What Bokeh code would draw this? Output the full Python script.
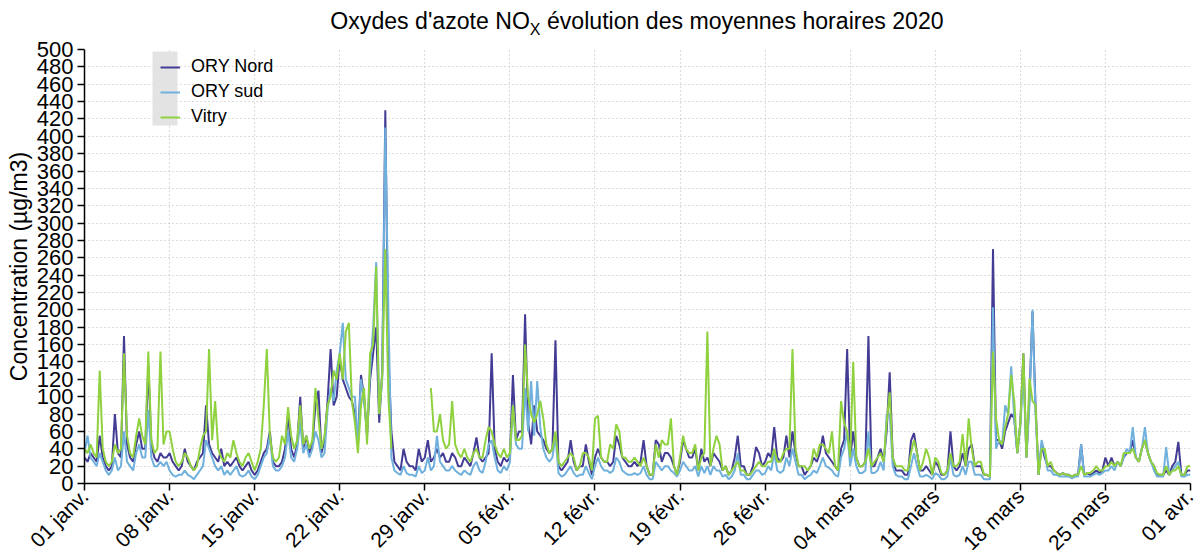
import numpy as np
from bokeh.plotting import figure
from bokeh.models import FixedTicker, Legend, LegendItem, BoxAnnotation, Div
from bokeh.layouts import column
from bokeh.embed import file_html
from bokeh.resources import INLINE

nan = float("nan")

# x axis: days since 01 janv. 2020, weekly ticks
TICK_DAYS = [0, 7, 14, 21, 28, 35, 42, 49, 56, 63, 70, 77, 84, 91]
TICK_LABELS = ["01 janv.", "08 janv.", "15 janv.", "22 janv.", "29 janv.",
               "05 févr.", "12 févr.", "19 févr.", "26 févr.", "04 mars",
               "11 mars", "18 mars", "25 mars", "01 avr."]
Y_TICKS = list(range(0, 501, 20))
STEP_HOURS = 6  # one value every 6 hours

# one row per day: 00h, 06h, 12h, 18h
ORY_NORD = [
    30, 25, 35, 30,   25, 55, 30, 20,   15, 20, 80, 35,   30, 170, 45, 30,
    25, 45, 60, 40,   40, 135, 45, 30,  25, 35, 30, 30,   35, 25, 20, 15,
    20, 40, 25, 20,   15, 25, 30, 35,   90, 45, 35, 30,   25, 40, 20, 25,
    20, 25, 30, 20,   15, 20, 25, 15,   10, 15, 25, 35,   40, 60, 25, 20,
    20, 25, 40, 80,   40, 30, 45, 100,  40, 55, 35, 45,   90, 107, 35, 50,
    95, 155, 90, 100, 145, 120, 110, 100, 95, 80, 50, 125, 100, 55, 120, 150,
    180, 70, 130, 430, 150, 60, 25, 20, 15, 40, 25, 20,   20, 15, 40, 25,
    30, 50, 25, 30,   40, 30, 35, 25,   25, 35, 30, 20,   20, 30, 25, 20,
    35, 53, 30, 25,   30, 35, 150, 40,  25, 20, 30, 25,   30, 125, 50, 60,
    60, 195, 70, 45,  90, 60, 55, 50,   40, 35, 40, 165,  20, 15, 20, 25,
    50, 25, 15, 20,   20, 45, 25, 10,   30, 40, 30, 25,   25, 20, 25, 55,
    45, 30, 25, 20,   20, 25, 20, 25,   50, 20, 10, 10,   50, 45, 25, 35,
    35, 30, 20, 10,   25, 50, 40, 30,   30, 40, 15, 40,   25, 30, 20, 35,
    30, 25, 15, 20,   10, 15, 30, 55,   20, 20, 10, 10,   20, 42, 35, 20,
    25, 35, 30, 65,   30, 25, 30, 55,   30, 60, 35, 20,   20, 10, 15, 20,
    30, 25, 35, 55,   35, 30, 25, 20,   15, 40, 50, 155,  30, 60, 30, 20,
    20, 25, 170, 20,  20, 30, 40, 25,   60, 128, 30, 15,  15, 15, 10, 10,
    49, 58, 35, 15,   15, 20, 15, 10,   25, 20, 10, 10,   15, 60, 20, 15,
    20, 35, 20, 40,   45, 20, 20, 20,   10, 10, 8, 270,   50, 50, 40, 60,
    70, 80, 75, 35,   70, 150, 30, 100, 198, 90, 10, 45,  30, 20, 20, 15,
    12, 10, 12, 10,   10, 8, 10, 10,    45, 10, 12, 10,   12, 15, 12, 15,
    30, 20, 30, 20,   25, 20, 30, 35,   35, 50, 30, 25,   40, 50, 35, 25,
    20, 10, 10, 10,   15, 10, 20, 25,   48, 10, 10, 15,
    15,
]

ORY_SUD = [
    35, 55, 30, 25,   20, 35, 25, 15,   10, 15, 30, 15,   20, 60, 25, 20,
    15, 35, 45, 30,   30, 85, 30, 20,   20, 25, 20, 25,   15, 10, 8, 10,
    10, 15, 10, 8,    5, 10, 15, 20,    50, 40, 30, 20,   15, 20, 10, 15,
    10, 15, 20, 10,   8, 10, 15, 8,     5, 10, 20, 30,    35, 55, 20, 15,
    15, 20, 30, 60,   30, 25, 40, 70,   35, 45, 30, 40,   60, 50, 30, 35,
    85, 110, 95, 130, 150, 185, 120, 110, 100, 100, 45, 120, 95, 60, 130, 180,
    255, 80, 120, 410, 200, 30, 15, 12, 10, 20, 12, 10,   10, 8, 20, 12,
    15, 30, 15, 20,   55, 25, 20, 15,   15, 20, 15, 12,   10, 15, 12, 10,
    20, 25, 15, 12,   25, 45, 50, 30,   15, 12, 20, 15,   25, 90, 45, 40,
    40, 110, 60, 118, 55, 118, 65, 40,  30, 25, 30, 55,   12, 8, 10, 15,
    20, 12, 8, 10,    10, 20, 12, 5,    20, 30, 20, 15,   15, 12, 15, 30,
    25, 15, 12, 10,   10, 12, 10, 12,   20, 10, 5, 5,     25, 20, 15, 20,
    20, 15, 12, 8,    15, 25, 20, 15,   15, 20, 8, 20,    12, 20, 10, 20,
    15, 15, 8, 10,    5, 8, 15, 35,     10, 10, 5, 5,     10, 15, 15, 10,
    12, 20, 15, 35,   15, 12, 15, 30,   20, 40, 25, 10,   10, 5, 8, 10,
    15, 12, 20, 30,   20, 18, 15, 10,   8, 30, 40, 60,    20, 40, 20, 12,
    12, 15, 60, 12,   12, 15, 25, 15,   79, 80, 20, 10,   8, 8, 5, 5,
    20, 35, 20, 8,    8, 10, 8, 5,      12, 10, 5, 5,     8, 30, 10, 8,
    10, 20, 10, 25,   25, 10, 10, 10,   5, 5, 5, 203,     40, 50, 45, 90,
    80, 135, 75, 35,  65, 130, 30, 90,  200, 80, 10, 50,  35, 15, 15, 10,
    10, 8, 8, 8,      8, 6, 8, 8,       45, 8, 8, 8,      10, 12, 10, 12,
    15, 15, 20, 15,   25, 20, 30, 40,   35, 65, 30, 25,   40, 65, 35, 25,
    15, 8, 8, 8,      42, 10, 15, 20,   25, 8, 8, 10,
    10,
]

VITRY = [
    40, 35, 45, 35,   30, 130, 40, 25,  20, 25, 45, 35,   40, 150, 55, 35,
    30, 55, 75, 55,   45, 152, 50, 35,  40, 152, 45, 60,  60, 40, 25, 20,
    25, 35, 30, 20,   15, 20, 40, 55,   60, 155, 50, 95,  40, 30, 25, 35,
    30, 50, 35, 25,   20, 30, 35, 25,   15, 25, 40, 90,   155, 55, 30, 25,
    30, 55, 45, 88,   55, 40, 50, 90,   45, 55, 40, 50,   110, 75, 40, 55,
    90, 100, 130, 120, 150, 120, 175, 185, 95, 70, 35, 90, 110, 45, 150, 160,
    250, 80, 125, 270, 100, 40, nan, nan, nan, nan, nan, nan, nan, nan, nan, nan,
    nan, nan, 110, 60, 60, 80, 50, 40,  45, 95, 45, 35,   30, 40, 30, 25,
    35, 40, 30, 30,   50, 65, 60, 45,   35, 30, 40, 30,   35, 90, 50, 50,
    55, 160, 100, 80, 70, 80, 95, 75,   45, 35, 40, 60,   25, 20, 25, 30,
    35, 30, 15, 20,   35, 35, 30, 15,   75, 78, 30, 25,   25, 45, 40, 68,
    60, 30, 30, 25,   25, 30, 25, 20,   30, 20, 10, 10,   45, 30, 50, 45,
    45, 75, 20, 10,   30, 55, 40, 35,   35, 45, 15, 30,   35, 175, 20, 40,
    55, 45, 15, 20,   10, 15, 20, 25,   15, 15, 10, 10,   15, 20, 25, 20,
    20, 25, 25, 40,   25, 25, 35, 40,   40, 155, 40, 20,  20, 20, 15, 20,
    40, 30, 45, 45,   40, 35, 60, 20,   15, 95, 70, 60,   30, 140, 30, 20,
    20, 25, 40, 20,   25, 30, 35, 25,   70, 105, 30, 20,  20, 20, 15, 15,
    35, 50, 35, 15,   25, 40, 30, 10,   30, 25, 12, 10,   15, 35, 20, 20,
    25, 57, 20, 75,   40, 20, 25, 25,   10, 10, 8, 152,   75, 50, 45, 65,
    80, 125, 95, 35,  70, 150, 30, 121, 95, 90, 10, 40,   40, 20, 25, 15,
    12, 10, 12, 10,   10, 8, 10, 10,    20, 10, 12, 12,   15, 20, 15, 15,
    20, 20, 25, 20,   25, 20, 35, 35,   35, 40, 30, 25,   40, 50, 35, 25,
    20, 12, 10, 10,   20, 10, 15, 15,   20, 10, 10, 20,
    20,
]

SERIES = [("ORY Nord", ORY_NORD, "#433c95"),
          ("ORY sud", ORY_SUD, "#6fb0dc"),
          ("Vitry", VITRY, "#8fd13f")]

FONT = "Liberation Sans"
LEFT = 84

p = figure(frame_width=1106, frame_height=434,
           x_range=(0, 91), y_range=(0, 500),
           output_backend="svg", toolbar_location=None,
           min_border_left=LEFT, min_border_right=7, min_border_top=14,
           min_border_bottom=10)
p.outline_line_color = None
p.background_fill_color = "white"

items = []
for name, vals, color in SERIES:
    y = np.array(vals, dtype=float)
    x = np.arange(len(y)) * STEP_HOURS / 24.0
    r = p.line(x, y, line_color=color, line_width=2)
    items.append(LegendItem(label=name, renderers=[r]))

# axes
p.xaxis.ticker = FixedTicker(ticks=TICK_DAYS)
p.xaxis.major_label_overrides = {d: lab for d, lab in zip(TICK_DAYS, TICK_LABELS)}
p.xaxis.major_label_orientation = np.pi / 4
p.yaxis.ticker = FixedTicker(ticks=Y_TICKS)
p.yaxis.axis_label = "Concentration (µg/m3)"
for ax in (p.xaxis[0], p.yaxis[0]):
    ax.axis_line_color = "black"
    ax.axis_line_width = 1.5
    ax.major_tick_line_color = "black"
    ax.major_tick_line_width = 1.5
    ax.minor_tick_line_color = None
    ax.major_tick_in = 0
    ax.major_tick_out = 7
    ax.major_label_text_font = FONT
    ax.major_label_text_color = "black"
    ax.axis_label_text_font = FONT
    ax.axis_label_text_font_size = "23px"
    ax.axis_label_text_font_style = "normal"
    ax.axis_label_text_color = "black"
p.yaxis.major_label_text_font_size = "22px"
p.xaxis.major_label_text_font_size = "21px"
p.yaxis.major_label_standoff = 4
p.yaxis.axis_label_standoff = 2
p.xaxis.major_label_standoff = 2

# dotted grid
for g in (p.xgrid[0], p.ygrid[0]):
    g.grid_line_color = "#b8b8b8"
    g.grid_line_dash = "1 3"
    g.grid_line_width = 1
p.xgrid.ticker = FixedTicker(ticks=TICK_DAYS)
p.ygrid.ticker = FixedTicker(ticks=Y_TICKS)

# grey box behind the legend swatches
box = BoxAnnotation(left=68, right=93, top=432, bottom=358,
                    left_units="screen", right_units="screen",
                    top_units="screen", bottom_units="screen",
                    fill_color="#e3e3e3", fill_alpha=1, line_color=None)
p.add_layout(box)

legend = Legend(items=items, location=(76, 356), orientation="vertical",
                background_fill_alpha=0, border_line_color=None,
                label_text_font=FONT, label_text_font_size="18px",
                label_text_color="black",
                glyph_width=20, glyph_height=20, label_height=20,
                spacing=4, padding=0, margin=0, label_standoff=11)
p.add_layout(legend)

title = Div(text=("<div style=\"margin-left:%dpx;width:1106px;text-align:center;"
                  "font-family:'Liberation Sans';font-size:23.1px;color:black;"
                  "padding-top:7px;line-height:28px;white-space:nowrap\">"
                  "Oxydes d'azote NO<sub style=\"font-size:16px\">X</sub>"
                  " évolution des moyennes horaires 2020</div>") % LEFT,
            width=LEFT + 1113, height=35, margin=(0, 0, 0, 0))

layout = column(title, p, spacing=0)

html = file_html(layout, INLINE)
html = html.replace("<head>", "<head><style>html,body{overflow:hidden}</style>", 1)
open("out.html", "w").write(html)
